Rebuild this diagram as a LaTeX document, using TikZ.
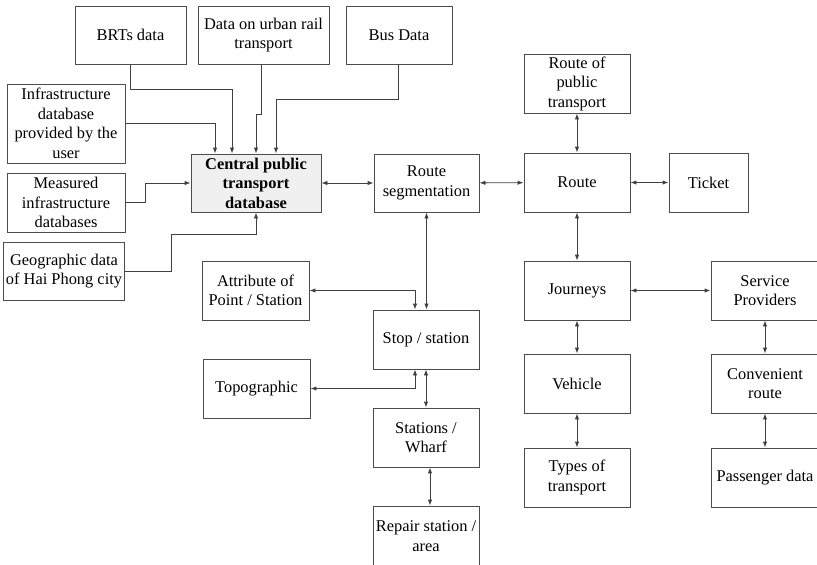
\documentclass[tikz,border=0pt]{standalone}
\usepackage{fontspec}
\setmainfont{Liberation Serif}
\usetikzlibrary{arrows.meta}
\tikzset{
  box/.style 2 args={draw=black!70, line width=0.9pt, fill=white, align=center,
    minimum width=#1pt, minimum height=#2pt, inner sep=2pt,
    font=\fontsize{16.4}{19.5}\selectfont},
  hub/.style={fill=black!6, font=\fontsize{16.4}{19.5}\selectfont\bfseries},
  arr/.style={draw=black!75, line width=0.9pt, -{Latex[length=6pt,width=4.5pt]}},
  darr/.style={draw=black!75, line width=0.9pt, {Latex[length=6pt,width=4.5pt]}-{Latex[length=6pt,width=4.5pt]}}
}
\begin{document}
\begin{tikzpicture}[x=1pt,y=-1pt]
\path[use as bounding box, clip] (0,0) rectangle (817,565);

% data sources
\node[box={111}{58}] (brt)  at (130.5,35) {BRTs data};
\node[box={131}{58}] (rail) at (263.5,35) {Data on urban rail\\transport};
\node[box={106}{58}] (bus)  at (399,35) {Bus Data};
\node[box={118}{79}] (infra) at (66,123.5) {Infrastructure\\database\\provided by the\\user};
\node[box={118}{59}] (meas) at (66,202.5) {Measured\\infrastructure\\databases};
\node[box={114}{58}] (geo)  at (64,271) {Geographic data\\of Hai Phong city};

% central database
\node[box={130}{58}, hub] (central) at (256,183) {Central public\\transport\\database};

% network entities
\node[box={105}{58}] (seg)    at (426.5,183) {Route\\segmentation};
\node[box={107}{59}] (attr)   at (255.5,290.5) {Attribute of\\Point / Station};
\node[box={106}{59}] (stop)   at (426,339.5) {Stop / station};
\node[box={107}{59}] (topo)   at (256.5,388.5) {Topographic};
\node[box={106}{59}] (wharf)  at (426,437.5) {Stations /\\Wharf};
\node[box={106}{60}] (repair) at (426,536) {Repair station /\\area};

\node[box={106}{59}] (rpt)    at (577,83.5) {Route of\\public\\transport};
\node[box={106}{59}] (route)  at (577,182.5) {Route};
\node[box={79}{59}]  (ticket) at (708.5,182.5) {Ticket};
\node[box={106}{59}] (journ)  at (577,290.5) {Journeys};
\node[box={108}{59}] (serv)   at (765,290.5) {Service\\Providers};
\node[box={106}{59}] (veh)    at (577,383.5) {Vehicle};
\node[box={106}{59}] (types)  at (577,477.5) {Types of\\transport};
\node[box={108}{59}] (conv)   at (765,383.5) {Convenient\\route};
\node[box={108}{59}] (pass)   at (765,477.5) {Passenger data};

% inputs to the central database
\draw[arr] (brt.south) -- ++(0,25) -| ([xshift=-24pt]central.north);
\draw[arr] ([xshift=-2.5pt]rail.south) -- ++(0,50) -| (central.north);
\draw[arr] ([xshift=-1pt]bus.south) -- ++(0,35) -| ([xshift=20pt]central.north);
\draw[arr] (infra.east) -| ([xshift=-41pt]central.north);
\draw[arr] (meas.east) -- ++(20,0) |- (central.west);
\draw[arr] (geo.east) -- ++(47,0) -- ++(0,-37) -| (central.south);

% two-way links
\draw[darr] (central) -- (seg);
\draw[darr] (seg) -- (route);
\draw[darr] (route) -- (ticket);
\draw[darr] (rpt) -- (route);
\draw[darr] (route) -- (journ);
\draw[darr] (journ) -- (serv);
\draw[darr] (journ) -- (veh);
\draw[darr] (veh) -- (types);
\draw[darr] (serv) -- (conv);
\draw[darr] (conv) -- (pass);
\draw[darr] (seg.south) -- (seg.south |- stop.north);
\draw[darr] (stop.south) -- (wharf.north);
\draw[darr] ([xshift=4pt]wharf.south) -- ([xshift=4pt]repair.north);
\draw[darr] (attr.east) -| ([xshift=-11pt]stop.north);
\draw[darr] (topo.east) -| ([xshift=-11pt]stop.south);
\end{tikzpicture}
\end{document}
